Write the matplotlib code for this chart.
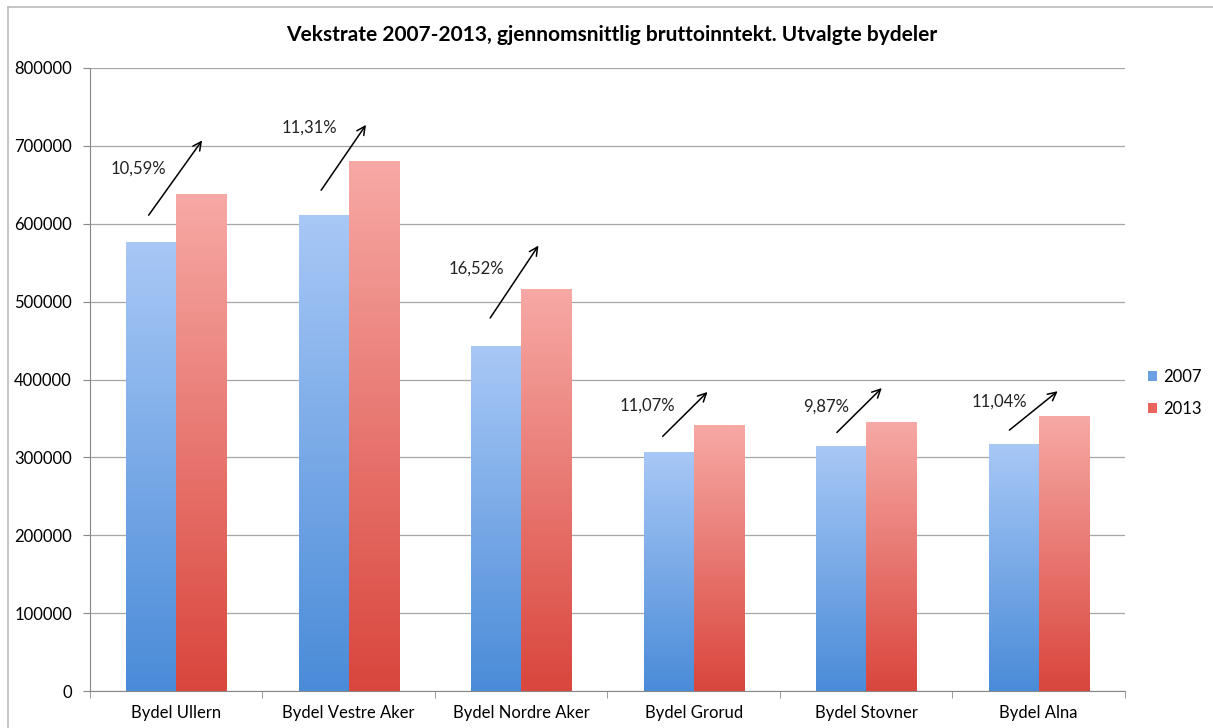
import numpy as np
import matplotlib.pyplot as plt
from matplotlib.colors import LinearSegmentedColormap
from matplotlib.patches import Patch
from matplotlib.lines import Line2D

plt.rcParams['font.family'] = ['Lato', 'DejaVu Sans']

# data
bydeler = ['Bydel Ullern', 'Bydel Vestre Aker', 'Bydel Nordre Aker',
           'Bydel Grorud', 'Bydel Stovner', 'Bydel Alna']
inntekt_2007 = [576000, 611000, 443000, 307000, 314000, 317000]
inntekt_2013 = [638000, 680000, 516000, 341000, 345000, 353000]
vekst = ['10,59%', '11,31%', '16,52%', '11,07%', '9,87%', '11,04%']

# growth arrows: start/end height and label height (data units)
pil_fra = [611000, 643000, 479000, 327000, 332000, 335000]
pil_til = [707000, 727000, 572000, 384000, 389000, 385000]
tekst_y = [671000, 723000, 543000, 366000, 365000, 371000]
# horizontal offsets from the category centre
pil_dx0 = [-0.16, -0.16, -0.18, -0.18, -0.17, -0.17]
pil_dx1 = [0.15, 0.10, 0.10, 0.08, 0.09, 0.11]
tekst_dx = [-0.22, -0.23, -0.26, -0.27, -0.23, -0.23]

blue_cmap = LinearSegmentedColormap.from_list('b', ['#4a8bd8', '#a8c8f6'])
red_cmap = LinearSegmentedColormap.from_list('r', ['#d9463d', '#f7a9a5'])

fig = plt.figure(figsize=(12.13, 7.28), dpi=100)
ax = fig.add_axes([0.0742, 0.0508, 0.8532, 0.8558])

x = np.arange(len(bydeler))
w = 0.29
grad = np.linspace(0, 1, 256).reshape(-1, 1)

def gradient_bars(xs, vals, cmap):
    bars = ax.bar(xs, vals, w, color='none', edgecolor='none', zorder=3)
    for b in bars:
        x0, y0 = b.get_x(), b.get_y()
        im = ax.imshow(grad, cmap=cmap, aspect='auto', origin='lower',
                       extent=[x0, x0 + b.get_width(), y0, y0 + b.get_height()],
                       zorder=3)
        im.set_clip_path(b)
    return bars

gradient_bars(x - w / 2, inntekt_2007, blue_cmap)
gradient_bars(x + w / 2, inntekt_2013, red_cmap)

# growth arrows and labels
for i in range(len(bydeler)):
    ax.annotate('', xy=(x[i] + pil_dx1[i], pil_til[i]),
                xytext=(x[i] + pil_dx0[i], pil_fra[i]),
                arrowprops=dict(arrowstyle='->', color='black', lw=1.1,
                                mutation_scale=15, shrinkA=0, shrinkB=0), zorder=5)
    ax.text(x[i] + tekst_dx[i], tekst_y[i], vekst[i],
            ha='center', va='center', fontsize=12, color='#222222', zorder=5)

ax.set_xlim(-0.5, len(bydeler) - 0.5)
ax.set_ylim(0, 800000)
ax.set_yticks(np.arange(0, 800001, 100000))
ax.set_yticklabels([str(v) for v in range(0, 800001, 100000)], fontsize=12)
ax.set_xticks(x)
ax.set_xticklabels(bydeler, fontsize=12)
ax.set_xticks(np.arange(-0.5, len(bydeler)), minor=True)
ax.tick_params(axis='x', which='major', length=0, pad=10)
ax.tick_params(axis='x', which='minor', length=5, color='#888888')
ax.tick_params(axis='y', length=5, color='#888888', pad=8)
ax.grid(axis='y', color='#a6a6a6', lw=0.9, zorder=0)
ax.set_axisbelow(True)
for s in ['top', 'right']:
    ax.spines[s].set_visible(False)
for s in ['left', 'bottom']:
    ax.spines[s].set_color('#888888')

fig.text(0.504, 0.952, 'Vekstrate 2007-2013, gjennomsnittlig bruttoinntekt. Utvalgte bydeler',
         ha='center', va='center', fontsize=15, fontweight='bold')

# legend
handles = [Patch(facecolor='#6a9fe4', label='2007'), Patch(facecolor='#e8645d', label='2013')]
fig.legend(handles=handles, loc='center left', bbox_to_anchor=(0.934, 0.460),
           frameon=False, fontsize=12, handlelength=0.55, handleheight=0.55,
           handletextpad=0.35, labelspacing=0.95)

# chart frame (top and left edges visible in the reference)
fig.add_artist(Line2D([8 / 1213, 8 / 1213], [0, 1 - 7 / 728], transform=fig.transFigure,
                      color='#bbbbbb', lw=1.2))
fig.add_artist(Line2D([8 / 1213, 1], [1 - 7 / 728, 1 - 7 / 728], transform=fig.transFigure,
                      color='#bbbbbb', lw=1.2))

fig.savefig('out.png', dpi=100)
